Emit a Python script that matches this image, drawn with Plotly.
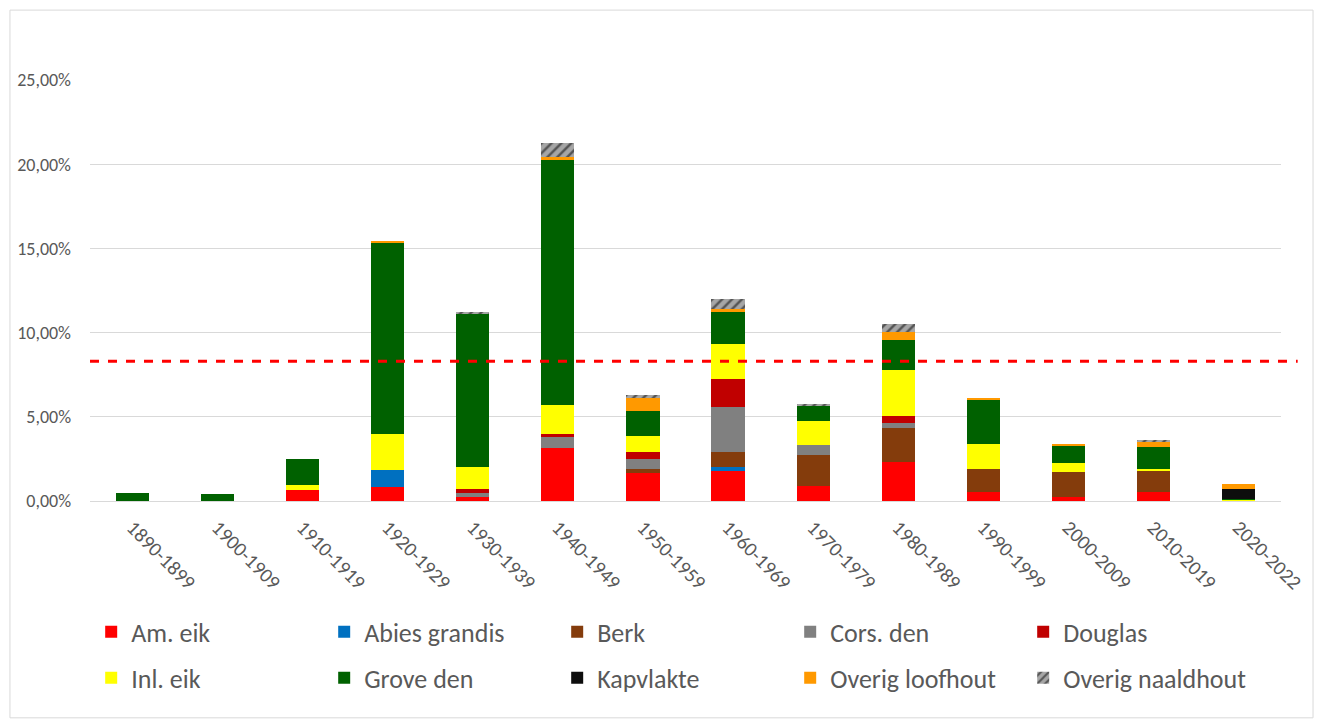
import plotly.graph_objects as go

# Age classes (planting decade)
perioden = ["1890-1899", "1900-1909", "1910-1919", "1920-1929", "1930-1939",
            "1940-1949", "1950-1959", "1960-1969", "1970-1979", "1980-1989",
            "1990-1999", "2000-2009", "2010-2019", "2020-2022"]

# Share of total area per tree species (%)
am_eik          = [0, 0, 0.65, 0.85, 0.26, 3.17, 1.68, 1.78, 0.91, 2.30, 0.53, 0.22, 0.53, 0]
abies_grandis   = [0, 0, 0, 0.99, 0, 0, 0, 0.26, 0, 0, 0, 0, 0, 0]
berk            = [0, 0, 0, 0, 0, 0, 0.20, 0.85, 1.80, 2.05, 1.37, 1.48, 1.29, 0]
cors_den        = [0, 0, 0, 0, 0.23, 0.65, 0.63, 2.67, 0.62, 0.28, 0, 0, 0, 0]
douglas         = [0, 0, 0, 0, 0.20, 0.14, 0.42, 1.70, 0, 0.40, 0, 0, 0, 0]
inl_eik         = [0, 0, 0.30, 2.12, 1.31, 1.74, 0.93, 2.04, 1.42, 2.77, 1.48, 0.53, 0.10, 0.07]
grove_den       = [0.48, 0.40, 1.53, 11.40, 9.10, 14.55, 1.50, 1.92, 0.91, 1.78, 2.60, 1.07, 1.30, 0.06]
kapvlakte       = [0, 0, 0, 0, 0, 0, 0, 0, 0, 0, 0, 0, 0, 0.60]
overig_loofhout = [0, 0, 0, 0.08, 0, 0.20, 0.77, 0.18, 0, 0.44, 0.14, 0.06, 0.32, 0.28]
overig_naaldhout = [0, 0, 0, 0, 0.14, 0.83, 0.16, 0.60, 0.12, 0.47, 0, 0, 0.06, 0]

# Reference level shown as a dashed line (%)
gemiddelde = 8.3

# (name, values, colour, legend row)
series = [
    ("Am. eik", am_eik, "#FF0000", "legend"),
    ("Abies grandis", abies_grandis, "#0070C0", "legend"),
    ("Berk", berk, "#843C0C", "legend"),
    ("Cors. den", cors_den, "#808080", "legend"),
    ("Douglas", douglas, "#C00000", "legend"),
    ("Inl. eik", inl_eik, "#FFFF00", "legend2"),
    ("Grove den", grove_den, "#006100", "legend2"),
    ("Kapvlakte", kapvlakte, "#0D0D0D", "legend2"),
    ("Overig loofhout", overig_loofhout, "#FF9900", "legend2"),
]

FONT = "Carlito, Lato, sans-serif"
TXT = "#595959"
GRID = "#D9D9D9"

fig = go.Figure()
for naam, waarden, kleur, rij in series:
    fig.add_trace(go.Bar(
        name=naam, x=perioden, y=waarden, legend=rij,
        marker=dict(color=kleur, line=dict(width=0)),
    ))

fig.add_trace(go.Bar(
    name="Overig naaldhout", x=perioden, y=overig_naaldhout, legend="legend2",
    marker=dict(color="#A6A6A6", line=dict(width=0),
                pattern=dict(shape="/", fgcolor="#000000", bgcolor="#A6A6A6",
                             size=7, solidity=0.35)),
))

# Dashed reference line
fig.add_shape(type="line", xref="paper", yref="y",
              x0=0, x1=1.014, y0=gemiddelde, y1=gemiddelde,
              line=dict(color="#FF0000", width=3, dash="dash"))

# Chart frame
fig.add_shape(type="rect", xref="paper", yref="paper",
              x0=-0.0672, x1=1.0269, y0=-0.515, y1=1.166,
              line=dict(color=GRID, width=1), fillcolor="rgba(0,0,0,0)",
              layer="below")

legend_style = dict(
    orientation="h", x=0.001, xanchor="left", yanchor="middle",
    entrywidth=188, entrywidthmode="pixels",
    font=dict(family=FONT, size=26, color=TXT),
    traceorder="normal", bgcolor="rgba(0,0,0,0)",
)

fig.update_layout(
    width=1317, height=723,
    margin=dict(l=90, r=36, t=80, b=222, autoexpand=False),
    barmode="stack",
    bargap=0.61,
    plot_bgcolor="white",
    paper_bgcolor="white",
    separators=",.",
    font=dict(family=FONT, color=TXT, size=17),
    showlegend=True,
    legend=dict(legend_style, y=-0.311),
    legend2=dict(legend_style, y=-0.420),
)

fig.update_xaxes(
    tickangle=45, tickfont=dict(size=20, color=TXT),
    showline=True, linecolor=GRID, linewidth=1,
    showgrid=False, ticks="outside", ticklen=6, tickcolor="rgba(0,0,0,0)",
    automargin=False,
)
fig.update_yaxes(
    range=[0, 25], dtick=5, tickformat=".2f", ticksuffix="%",
    showgrid=True, gridcolor=GRID, gridwidth=1,
    zeroline=True, zerolinecolor=GRID, zerolinewidth=1,
    showline=False, ticks="", ticklabelstandoff=18,
    tickfont=dict(size=18, color=TXT), automargin=False,
)

fig.write_html("out.html")
